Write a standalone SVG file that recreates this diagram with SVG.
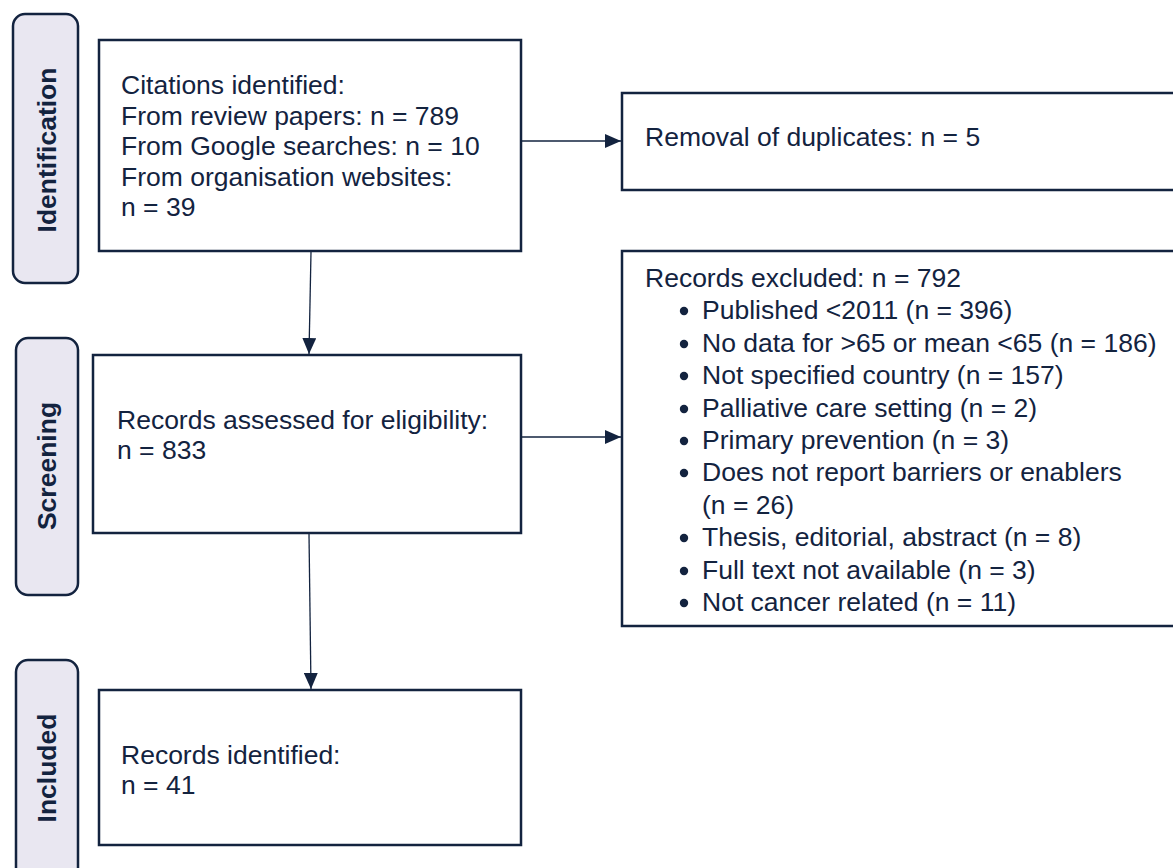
<svg xmlns="http://www.w3.org/2000/svg" width="1173" height="868" viewBox="0 0 1173 868">
<style>
.lbl{fill:#e9e7f1;stroke:#13233f;stroke-width:2.5}
.box{fill:#ffffff;stroke:#13233f;stroke-width:2.5}
.lt{font-family:"Liberation Sans",Arial,sans-serif;font-weight:bold;font-size:26.5px;fill:#13233f;text-anchor:middle}
.t{font-family:"Liberation Sans",Arial,sans-serif;font-size:26.5px;fill:#13233f}
.con{stroke:#13233f;stroke-width:1.3;fill:none;marker-end:url(#ah)}
.bul{fill:#13233f}
</style>
<defs>
<marker id="ah" viewBox="0 0 16 14" refX="16" refY="7" markerWidth="16" markerHeight="14" markerUnits="userSpaceOnUse" orient="auto">
<path d="M0,0 L16,7 L0,14 Z" fill="#13233f"/>
</marker>
</defs>
<rect width="1173" height="868" fill="#ffffff"/>
<g id="label-identification">
<rect class="lbl" x="13" y="14" width="65" height="269" rx="12"/>
<text class="lt" transform="translate(56,150) rotate(-90)">Identification</text>
</g>
<g id="label-screening">
<rect class="lbl" x="16" y="338" width="62" height="257" rx="12"/>
<text class="lt" transform="translate(56,466) rotate(-90)">Screening</text>
</g>
<g id="label-included">
<rect class="lbl" x="16" y="660" width="62" height="240" rx="12"/>
<text class="lt" transform="translate(56,768) rotate(-90)">Included</text>
</g>
<g id="node-citations">
<rect class="box" x="99" y="40" width="422" height="211"/>
<text class="t" x="121" y="94">Citations identified:</text>
<text class="t" x="121" y="125">From review papers: n = 789</text>
<text class="t" x="121" y="155">From Google searches: n = 10</text>
<text class="t" x="121" y="186">From organisation websites:</text>
<text class="t" x="121" y="216">n = 39</text>
</g>
<g id="node-duplicates">
<rect class="box" x="622" y="93" width="600" height="97"/>
<text class="t" x="645" y="146">Removal of duplicates: n = 5</text>
</g>
<g id="node-assessed">
<rect class="box" x="93" y="355" width="428" height="178"/>
<text class="t" x="117" y="429">Records assessed for eligibility:</text>
<text class="t" x="117" y="459">n = 833</text>
</g>
<g id="node-excluded">
<rect class="box" x="622" y="251" width="600" height="375"/>
<text class="t" x="645" y="287">Records excluded: n = 792</text>
<circle class="bul" cx="684" cy="311" r="4.2"/>
<text class="t" x="702" y="319">Published &lt;2011 (n = 396)</text>
<circle class="bul" cx="684" cy="344" r="4.2"/>
<text class="t" x="702" y="352">No data for &gt;65 or mean &lt;65 (n = 186)</text>
<circle class="bul" cx="684" cy="376" r="4.2"/>
<text class="t" x="702" y="384">Not specified country (n = 157)</text>
<circle class="bul" cx="684" cy="409" r="4.2"/>
<text class="t" x="702" y="417">Palliative care setting (n = 2)</text>
<circle class="bul" cx="684" cy="441" r="4.2"/>
<text class="t" x="702" y="449">Primary prevention (n = 3)</text>
<circle class="bul" cx="684" cy="473" r="4.2"/>
<text class="t" x="702" y="481">Does not report barriers or enablers</text>
<text class="t" x="702" y="514">(n = 26)</text>
<circle class="bul" cx="684" cy="538" r="4.2"/>
<text class="t" x="702" y="546">Thesis, editorial, abstract (n = 8)</text>
<circle class="bul" cx="684" cy="571" r="4.2"/>
<text class="t" x="702" y="579">Full text not available (n = 3)</text>
<circle class="bul" cx="684" cy="603" r="4.2"/>
<text class="t" x="702" y="611">Not cancer related (n = 11)</text>
</g>
<g id="node-included">
<rect class="box" x="99" y="690" width="422" height="155"/>
<text class="t" x="121" y="764">Records identified:</text>
<text class="t" x="121" y="794">n = 41</text>
</g>
<g id="connectors">
<line class="con" x1="521" y1="141" x2="621" y2="141"/>
<line class="con" x1="311" y1="252" x2="309" y2="354"/>
<line class="con" x1="521" y1="437" x2="621" y2="437"/>
<line class="con" x1="309" y1="534" x2="311" y2="689"/>
</g>
</svg>
